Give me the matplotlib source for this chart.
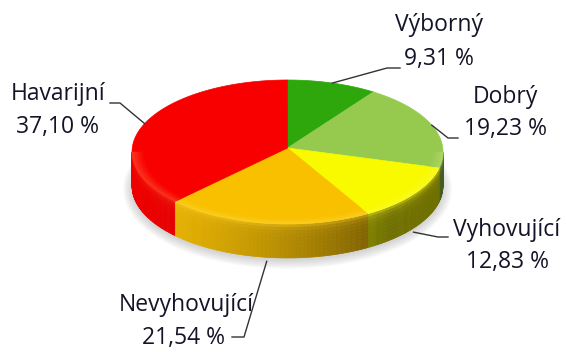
import numpy as np
import matplotlib
matplotlib.use("Agg")
import matplotlib.pyplot as plt
from matplotlib.collections import PolyCollection
from matplotlib.patches import Ellipse
from matplotlib.colors import to_rgb

plt.rcParams['font.family'] = ['Open Sans', 'DejaVu Sans']

names = ['Výborný', 'Dobrý', 'Vyhovující', 'Nevyhovující', 'Havarijní']
shares = [9.31, 19.23, 12.83, 21.54, 37.10]
colors = ['#2da70b', '#96ca4f', '#f9f900', '#f9c000', '#f90000']

# label layout: (name centre, value centre, elbow, line end)
label_pos = [
    ((439, 25), (439, 59), (387, 68), (400, 68)),
    ((505, 97), (505, 129), (448, 138), (458, 138)),
    ((507, 230), (508, 262), (438, 237), (448, 237)),
    ((186, 305), (183, 338), (244, 337), (232, 337)),
    ((58, 94), (57, 127), (120, 103), (110, 103)),
]

cx, cy = 287.5, 152.0
rx, ry = 155.5, 72.0
depth = 34.0
apex_up = 4.0

fig = plt.figure(figsize=(5.66, 3.52), dpi=100)
ax = fig.add_axes([0, 0, 1, 1])
ax.set_xlim(0, 566)
ax.set_ylim(352, 0)
ax.axis('off')


def pt(t, s=1.0, dy=0.0):
    r = np.radians(t)
    return cx + s * rx * np.sin(r), cy - s * ry * np.cos(r) + dy


def shade(t):
    x = np.clip((t - 140.0) / 110.0, 0, 1)
    return 0.45 + 0.5 * np.sin(np.pi / 2 * x)


def mix(c, w, amt):
    return tuple(np.clip((1 - amt) * np.array(c) + amt * np.array(w), 0, 1))


# soft shadow under the pie
for k in range(10):
    ax.add_patch(Ellipse((cx, cy + depth + 3), 2 * (rx + 9 - k), 2 * (ry + 8 - k),
                         facecolor='#808080', edgecolor='none', alpha=0.035, zorder=1))

total = sum(shares)
bounds = np.cumsum([0] + shares) / total * 360.0

side_polys, side_cols = [], []
top_polys, top_cols = [], []
rim_polys, rim_cols = [], []
v_edges = np.linspace(0, 1, 11)
s_edges = np.linspace(0.93, 1.0, 6)

for i, c in enumerate(colors):
    base = to_rgb(c)
    light = mix(base, (1, 1, 0.6), 0.2)
    t0, t1 = bounds[i], bounds[i + 1]
    ts = np.linspace(t0, t1, max(int((t1 - t0) * 2), 2))
    arc = [pt(t) for t in ts]
    top_polys.append([(cx, cy - apex_up)] + arc)
    top_cols.append(base)

    a, b = max(t0, 90.0), min(t1, 270.0)
    if a >= b:
        continue
    n = max(int((b - a) * 2), 1)
    tt = np.linspace(a, b, n + 1)
    for j in range(n):
        ta, tb = tt[j], tt[j + 1]
        f = shade((ta + tb) / 2)
        dark = tuple(np.array(base) * f)
        for k in range(len(v_edges) - 1):
            v0, v1 = v_edges[k], v_edges[k + 1]
            h = 0.6 * np.exp(-((v0 + v1) / 2) / 0.12)
            col = mix(dark, light, h)
            side_polys.append([pt(ta, dy=depth * v0), pt(tb, dy=depth * v0),
                               pt(tb, dy=depth * v1), pt(ta, dy=depth * v1)])
            side_cols.append(col)
        # lighter bevel along the front rim of the top face
        for k in range(len(s_edges) - 1):
            s0, s1 = s_edges[k], s_edges[k + 1]
            w = (k + 1) / (len(s_edges) - 1)
            rim_polys.append([pt(ta, s0), pt(tb, s0), pt(tb, s1), pt(ta, s1)])
            rim_cols.append(mix(base, light, w))

ax.add_collection(PolyCollection(side_polys, facecolors=side_cols, edgecolors=side_cols,
                                 linewidths=0.4, zorder=2))
ax.add_collection(PolyCollection(top_polys, facecolors=top_cols, edgecolors=top_cols,
                                 linewidths=0.5, zorder=3))
ax.add_collection(PolyCollection(rim_polys, facecolors=rim_cols, edgecolors=rim_cols,
                                 linewidths=0.3, zorder=4))

# labels and leader lines
text_kw = dict(fontsize=16.5, color='#141428', ha='center', va='center', zorder=6)
for i, (name, val) in enumerate(zip(names, shares)):
    tm = (bounds[i] + bounds[i + 1]) / 2
    x0, y0 = pt(tm, 1.0, depth + 4 if 90 < tm < 270 else 0)
    (nx, ny), (vx, vy), (ex, ey), (lx, ly) = label_pos[i]
    ax.plot([x0, ex, lx], [y0, ey, ly], color='#333333', lw=1.0, zorder=5)
    ax.text(nx, ny, name, **text_kw)
    ax.text(vx, vy, f"{val:.2f} %".replace('.', ','), **text_kw)

fig.savefig('out.png', dpi=100)
